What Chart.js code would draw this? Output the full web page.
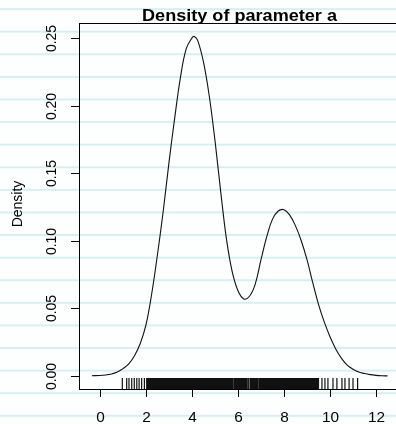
<!DOCTYPE html>
<html>
<head>
<meta charset="utf-8">
<script src="https://cdn.jsdelivr.net/npm/chart.js@4.4.0/dist/chart.umd.min.js"></script>
<style>
  html, body { margin: 0; padding: 0; overflow: hidden; }
  body {
    width: 396px; height: 424px;
    background-color: #fdfefe;
    background-image: repeating-linear-gradient(to bottom,
      rgba(0,0,0,0) 0px, rgba(0,0,0,0) 21px,
      #d9eeee 21px, #d9eeee 23px,
      rgba(0,0,0,0) 23px, rgba(0,0,0,0) 22.6px);
    background-size: 100% 22.6px;
    background-position: 0 -12.5px;
  }
  #wrap { position: absolute; left: 0; top: 0; width: 410px; height: 424px; }
</style>
</head>
<body>
<div id="wrap"><canvas id="myChart" width="410" height="424"></canvas></div>
<script>
// density curve of parameter a
var densX = [-0.35, 0, 0.25, 0.5, 0.75, 1, 1.25, 1.5, 1.75, 2, 2.25, 2.5, 2.75, 3, 3.25, 3.5, 3.75, 4, 4.1,
  4.25, 4.5, 4.75, 5, 5.25, 5.5, 5.75, 6, 6.25, 6.5, 6.75, 7, 7.25, 7.5, 7.75, 8, 8.25, 8.5, 8.75,
  9, 9.25, 9.5, 9.75, 10, 10.25, 10.5, 10.75, 11, 11.25, 11.5, 11.75, 12, 12.25, 12.5];
var densY = [0.0002, 0.0004, 0.0008, 0.0015, 0.003, 0.0055, 0.009, 0.015, 0.024, 0.038, 0.061, 0.090, 0.122, 0.158, 0.191, 0.221, 0.242, 0.250, 0.251,
  0.248, 0.232, 0.207, 0.174, 0.136, 0.101, 0.077, 0.063, 0.057, 0.059, 0.068, 0.086, 0.103, 0.116, 0.122, 0.123, 0.119, 0.111, 0.100,
  0.086, 0.069, 0.053, 0.040, 0.029, 0.020, 0.013, 0.008, 0.005, 0.003, 0.0018, 0.001, 0.0005, 0.0002, 0.0001];

// rug of the samples
var rugX = [0.97, 1.16, 1.26, 1.38, 1.49, 1.60, 1.70, 1.81, 1.93, 2.03,
  2.08, 2.12, 2.17, 2.21, 2.26, 2.30, 2.34, 2.39, 2.43, 2.47, 2.52, 2.56, 2.60, 2.65, 2.69, 2.73, 2.78, 2.82, 2.86,
  2.91, 2.95, 2.99, 3.04, 3.08, 3.12, 3.17, 3.21, 3.25, 3.30, 3.34, 3.38, 3.43, 3.47, 3.51, 3.56, 3.60, 3.64,
  3.69, 3.73, 3.77, 3.82, 3.86, 3.90, 3.95, 3.99, 4.03, 4.08, 4.12, 4.16, 4.21, 4.25, 4.29, 4.34, 4.38, 4.42,
  4.47, 4.51, 4.55, 4.60, 4.64, 4.68, 4.73, 4.77, 4.81, 4.86, 4.90, 4.94, 4.99, 5.03, 5.07, 5.12, 5.16, 5.20,
  5.25, 5.29, 5.33, 5.38, 5.42, 5.46, 5.51, 5.55, 5.59, 5.64, 5.69, 5.74, 5.79, 5.85, 5.90, 5.94, 5.98, 6.03,
  6.08, 6.12, 6.16, 6.20, 6.25, 6.29, 6.34, 6.39, 6.45, 6.52, 6.56, 6.60, 6.65, 6.69, 6.73, 6.78, 6.82, 6.87,
  6.93, 6.98, 7.03, 7.07, 7.11, 7.16, 7.20,
  7.24, 7.29, 7.33, 7.37, 7.42, 7.46, 7.50, 7.55, 7.59, 7.63, 7.68, 7.72, 7.76, 7.81, 7.85, 7.89, 7.94, 7.98,
  8.02, 8.07, 8.11, 8.15, 8.20, 8.24, 8.28, 8.33, 8.37, 8.41, 8.46, 8.50, 8.54, 8.59, 8.63, 8.67, 8.72, 8.76,
  8.80, 8.85, 8.89, 8.93, 8.98, 9.02, 9.06, 9.11, 9.15, 9.19, 9.24, 9.28, 9.32, 9.37, 9.41, 9.45,
  9.50, 9.65, 9.78, 9.91, 10.13, 10.30, 10.52, 10.65, 10.83, 11.00, 11.20];

var xTicks = [0, 2, 4, 6, 8, 10, 12];
var yTicks = [0, 0.05, 0.10, 0.15, 0.20, 0.25];
var yTickLabels = ["0.00", "0.05", "0.10", "0.15", "0.20", "0.25"];
var title = "Density of parameter a";
var yTitle = "Density";

var points = densX.map(function(x, i) {
	return { x: x, y: densY[i] };
});

// R style box, axes, rug and labels
var rPlot = {
	id: "rPlot",
	afterDraw: function(chart) {
		var ctx = chart.ctx;
		var a = chart.chartArea;
		var xs = chart.scales.x, ys = chart.scales.y;
		ctx.save();
		ctx.strokeStyle = "#000";
		ctx.lineWidth = 1;
		ctx.strokeRect(Math.round(a.left) + 0.5, Math.round(a.top) + 0.5,
			Math.round(a.right - a.left), Math.round(a.bottom - a.top));

		// rug
		ctx.save();
		ctx.lineWidth = 1.2;
		ctx.strokeStyle = "#111";
		ctx.beginPath();
		rugX.forEach(function(v) {
			var px = xs.getPixelForValue(v);
			ctx.moveTo(px, a.bottom);
			ctx.lineTo(px, a.bottom - 11);
		});
		ctx.stroke();
		ctx.restore();

		// x axis
		ctx.fillStyle = "#000";
		ctx.font = "14px 'Liberation Sans', Arial, sans-serif";
		ctx.textAlign = "center";
		ctx.textBaseline = "alphabetic";
		xTicks.forEach(function(v) {
			var px = Math.round(xs.getPixelForValue(v)) + 0.5;
			ctx.beginPath();
			ctx.moveTo(px, a.bottom);
			ctx.lineTo(px, a.bottom + 8);
			ctx.stroke();
			ctx.save();
			ctx.translate(px, 421.5);
			ctx.scale(1.1, 1);
			ctx.fillText(String(v), 0, 0);
			ctx.restore();
		});

		// y axis
		yTicks.forEach(function(v, i) {
			var py = Math.round(ys.getPixelForValue(v)) + 0.5;
			ctx.beginPath();
			ctx.moveTo(a.left, py);
			ctx.lineTo(a.left - 8, py);
			ctx.stroke();
			ctx.save();
			ctx.translate(56, py);
			ctx.rotate(-Math.PI / 2);
			ctx.scale(1, 1.1);
			ctx.textAlign = "center";
			ctx.fillText(yTickLabels[i], 0, 0);
			ctx.restore();
		});

		// y title
		ctx.save();
		ctx.translate(22, 204);
		ctx.rotate(-Math.PI / 2);
		ctx.scale(1, 1.1);
		ctx.textAlign = "center";
		ctx.fillText(yTitle, 0, 0);
		ctx.restore();

		// main title
		ctx.save();
		ctx.font = "bold 16px 'Liberation Sans', Arial, sans-serif";
		ctx.translate(239.5, 21);
		ctx.scale(1.13, 1);
		ctx.textAlign = "center";
		ctx.fillText(title, 0, 0);
		ctx.restore();
		ctx.restore();
	}
};

var ctx = document.getElementById("myChart").getContext("2d");
var myChart = new Chart(ctx, {
	type: "line",
	data: {
		datasets: [{
			data: points,
			borderColor: "#111",
			borderWidth: 1.1,
			pointRadius: 0,
			fill: false,
			tension: 0.4
		}]
	},
	options: {
		responsive: false,
		animation: false,
		devicePixelRatio: 1,
		layout: { padding: { left: 79, top: 23, right: 11, bottom: 35 } },
		plugins: { legend: { display: false }, tooltip: { enabled: false } },
		scales: {
			x: { type: "linear", min: -0.913, max: 13.0, display: false },
			y: { type: "linear", min: -0.0096, max: 0.261, display: false }
		}
	},
	plugins: [rPlot]
});
</script>
</body>
</html>
